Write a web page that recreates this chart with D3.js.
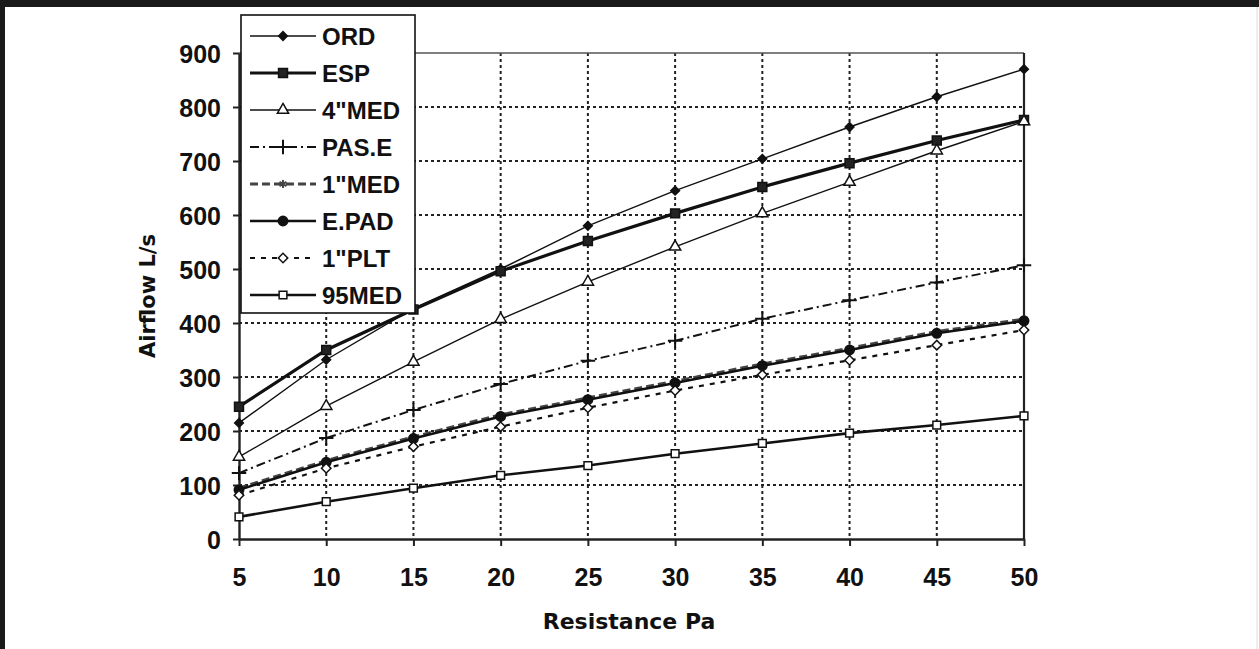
<!DOCTYPE html>
<html>
<head>
<meta charset="utf-8">
<script src="https://cdn.jsdelivr.net/npm/d3@7"></script>
<style>
  body { margin: 0; background: #fff; }
  svg { display: block; }
</style>
</head>
<body>
<svg width="1259" height="649"></svg>
<script>
// data
const resistance = [5, 10, 15, 20, 25, 30, 35, 40, 45, 50]
const yTicks = [0, 100, 200, 300, 400, 500, 600, 700, 800, 900]

const ord   = [215, 332, 427, 500, 580, 645, 704, 763, 819, 870]
const esp   = [245, 350, 425, 496, 552, 603, 652, 696, 738, 776]
const med4  = [152, 246, 328, 407, 476, 541, 603, 661, 719, 773]
const pasE  = [122, 187, 239, 287, 330, 367, 408, 442, 475, 507]
const med1  = [94, 145, 189, 230, 261, 292, 324, 353, 384, 407]
const ePad  = [91, 142, 186, 227, 258, 289, 321, 350, 381, 404]
const plt1  = [81, 131, 171, 208, 243, 275, 304, 331, 359, 387]
const med95 = [41, 69, 94, 118, 136, 158, 177, 196, 211, 228]

const seriesNames = ['ORD', 'ESP', '4"MED', 'PAS.E', '1"MED', 'E.PAD', '1"PLT', '95MED']

const styles = [
  { w: 1.4, dash: null,      sym: d3.symbolSquare,   size: 38, rot: 45, fill: '#111' },
  { w: 3.2, dash: null,      sym: d3.symbolSquare,   size: 80, fill: '#222' },
  { w: 1.4, dash: null,      sym: d3.symbolTriangle, size: 55, fill: '#fff' },
  { w: 2,   dash: '9,4,2,4', sym: d3.symbolPlus,     size: 70, fill: 'none', strokeSym: true },
  { w: 3.2, dash: '8,4',     sym: d3.symbolAsterisk, size: 45, fill: 'none', strokeSym: true, color: '#444' },
  { w: 2.6, dash: null,      sym: d3.symbolCircle,   size: 70, fill: '#111' },
  { w: 2.2, dash: '5,6',     sym: d3.symbolSquare,   size: 45, rot: 45, fill: '#fff' },
  { w: 2.6, dash: null,      sym: d3.symbolSquare,   size: 60, fill: '#fff' }
]

const allSeries = [ord, esp, med4, pasE, med1, ePad, plt1, med95]

const svg = d3.select('svg')

// page frame
svg.append('rect').attr('x', 0).attr('y', 0).attr('width', 1259).attr('height', 7).attr('fill', '#1a1a1a')
svg.append('rect').attr('x', 0).attr('y', 0).attr('width', 5).attr('height', 649).attr('fill', '#1a1a1a')
svg.append('line').attr('x1', 1257).attr('x2', 1257).attr('y1', 7).attr('y2', 649).attr('stroke', '#ddd')

const scaleX = d3.scaleLinear().domain([5, 50]).range([239, 1024])
const scaleY = d3.scaleLinear().domain([0, 900]).range([539, 53])

// grid
const grid = svg.append('g').attr('class', 'grid')
grid.selectAll('line.h')
  .data(yTicks.filter(d => d > 0 && d < 900))
  .enter().append('line')
  .attr('x1', 239).attr('x2', 1024)
  .attr('y1', d => scaleY(d)).attr('y2', d => scaleY(d))
  .attr('stroke', '#222').attr('stroke-width', 2).attr('stroke-dasharray', '3,3')
grid.selectAll('line.v')
  .data(resistance.slice(1, -1))
  .enter().append('line')
  .attr('y1', 53).attr('y2', 539)
  .attr('x1', d => scaleX(d)).attr('x2', d => scaleX(d))
  .attr('stroke', '#222').attr('stroke-width', 2).attr('stroke-dasharray', '3,3')

// top & right border
svg.append('line').attr('x1', 239).attr('x2', 1024).attr('y1', 53).attr('y2', 53)
  .attr('stroke', '#555').attr('stroke-width', 1.5)
svg.append('line').attr('x1', 1024).attr('x2', 1024).attr('y1', 53).attr('y2', 539)
  .attr('stroke', '#222').attr('stroke-width', 2.2)

// axes
const axisX = d3.axisBottom(scaleX).tickValues(resistance).tickSizeInner(7).tickSizeOuter(0).tickPadding(22)
const axisY = d3.axisLeft(scaleY).tickValues(yTicks).tickSizeInner(6).tickSizeOuter(0).tickPadding(12)

const axisXGroup = svg.append('g').attr('transform', 'translate(0, 539)').call(axisX)
const axisYGroup = svg.append('g').attr('transform', 'translate(239, 0)').call(axisY)

;[axisXGroup, axisYGroup].forEach(g => {
  g.select('.domain').attr('stroke', '#222').attr('stroke-width', 2.4)
  g.selectAll('.tick line').attr('stroke', '#222').attr('stroke-width', 2)
  g.selectAll('.tick text')
    .attr('fill', '#111')
    .style('font-family', '"Liberation Sans", Arial, sans-serif')
    .style('font-weight', 'bold')
    .style('font-size', '25px')
})
axisYGroup.selectAll('.tick text').attr('dy', '0.36em')

// axis titles
svg.append('text')
  .attr('x', 629).attr('y', 629)
  .attr('text-anchor', 'middle')
  .style('font-family', '"DejaVu Sans", sans-serif')
  .style('font-weight', 'bold')
  .style('font-size', '22px')
  .attr('fill', '#111')
  .text('Resistance Pa')

svg.append('text')
  .attr('transform', 'translate(155, 296) rotate(-90)')
  .attr('text-anchor', 'middle')
  .style('font-family', '"DejaVu Sans", sans-serif')
  .style('font-weight', 'bold')
  .style('font-size', '21px')
  .attr('fill', '#111')
  .text('Airflow L/s')

// series
const line = d3.line()
  .x((d, i) => scaleX(resistance[i]))
  .y(d => scaleY(d))

const drawMarker = (sel, st) => {
  sel.attr('d', d3.symbol().type(st.sym).size(st.size))
    .attr('fill', st.strokeSym ? 'none' : st.fill)
    .attr('stroke', st.color || '#111')
    .attr('stroke-width', st.strokeSym ? 2 : 1.5)
}

const seriesGroup = svg.append('g').attr('class', 'series')

allSeries.forEach((values, k) => {
  const st = styles[k]
  const g = seriesGroup.append('g')
  g.append('path')
    .attr('d', line(values))
    .attr('fill', 'none')
    .attr('stroke', st.color || '#111')
    .attr('stroke-width', st.w)
    .attr('stroke-dasharray', st.dash)
  g.selectAll('path.pt')
    .data(values)
    .enter().append('path')
    .attr('class', 'pt')
    .attr('transform', (d, i) => `translate(${scaleX(resistance[i])}, ${scaleY(d)}) rotate(${st.rot || 0})`)
    .call(drawMarker, st)
})

// legend
const legend = svg.append('g').attr('class', 'legend')
legend.append('rect')
  .attr('x', 241).attr('y', 15).attr('width', 174).attr('height', 298)
  .attr('fill', '#fff').attr('stroke', '#111').attr('stroke-width', 1.6)

const items = legend.selectAll('g.item')
  .data(seriesNames)
  .enter().append('g')
  .attr('class', 'item')
  .attr('transform', (d, i) => `translate(0, ${36 + i * 37})`)

items.append('line')
  .attr('x1', 250).attr('x2', 316).attr('y1', 0).attr('y2', 0)
  .attr('stroke', (d, i) => styles[i].color || '#111')
  .attr('stroke-width', (d, i) => styles[i].w)
  .attr('stroke-dasharray', (d, i) => styles[i].dash)

items.each(function (d, i) {
  d3.select(this).append('path')
    .attr('transform', `translate(283, 0) rotate(${styles[i].rot || 0})`)
    .call(drawMarker, styles[i])
})

items.append('text')
  .attr('x', 322).attr('y', 9)
  .style('font-family', '"Liberation Sans", Arial, sans-serif')
  .style('font-weight', 'bold')
  .style('font-size', '24px')
  .attr('fill', '#111')
  .text(d => d)
</script>
</body>
</html>
